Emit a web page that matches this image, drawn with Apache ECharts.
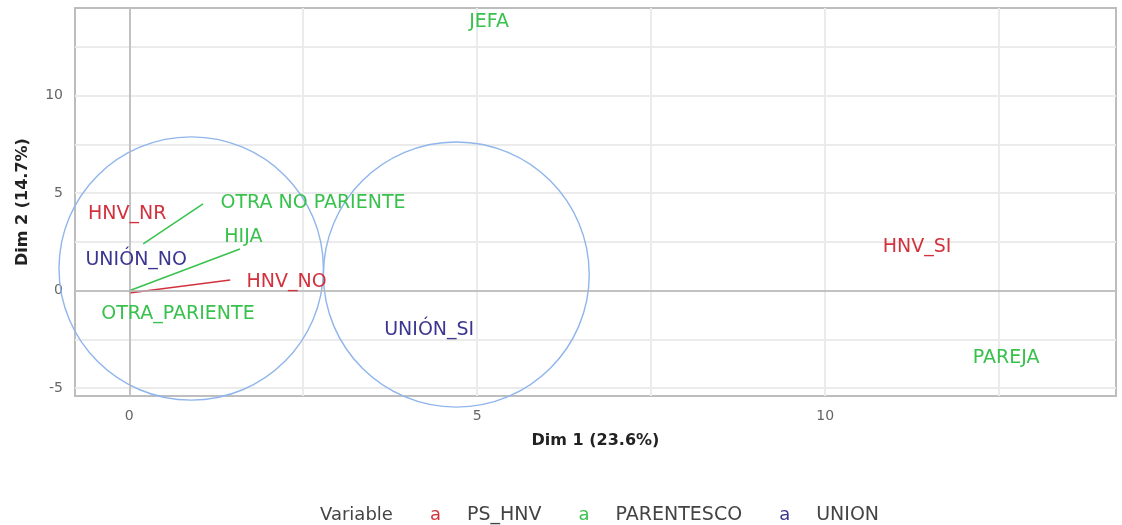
<!DOCTYPE html>
<html>
<head>
<meta charset="utf-8">
<script src="https://cdn.jsdelivr.net/npm/echarts@6/dist/echarts.min.js"></script>
<style>
  html, body { margin: 0; padding: 0; background: #fff; }
  #chart { width: 1122px; height: 525px; }
</style>
</head>
<body>
<div id="chart"></div>
<script>
// etiquetas (posicion del texto en Dim 1 / Dim 2)
var psHnv = [
  { name: "HNV_NR", value: [-0.03, 3.94] },
  { name: "HNV_NO", value: [2.26, 0.45] },
  { name: "HNV_SI", value: [11.32, 2.24] }
];
var parentesco = [
  { name: "JEFA", value: [5.17, 13.8] },
  { name: "OTRA NO PARIENTE", value: [2.64, 4.5] },
  { name: "HIJA", value: [1.64, 2.75] },
  { name: "OTRA_PARIENTE", value: [0.7, -1.2] },
  { name: "PAREJA", value: [12.6, -3.45] }
];
var union = [
  { name: "UNIÓN_NO", value: [0.1, 1.57] },
  { name: "UNIÓN_SI", value: [4.31, -2.0] }
];
// segmentos punto -> etiqueta
var segmentos = [
  { grupo: "PARENTESCO", coords: [[0.2, 2.4], [1.06, 4.45]] },
  { grupo: "PARENTESCO", coords: [[0.0, 0.0], [1.59, 2.14]] },
  { grupo: "PS_HNV", coords: [[0.0, -0.12], [1.45, 0.55]] }
];
// circulos: centro x, centro y, radio x, radio y
var circulos = [
  [0.89, 1.14, 1.9, 6.75],
  [4.70, 0.83, 1.91, 6.8]
];
var ticksX = [0, 2.5, 5, 7.5, 10, 12.5];
var ticksY = [-5, -2.5, 0, 2.5, 5, 7.5, 10, 12.5];
var labelsX = [0, 5, 10];
var labelsY = [-5, 0, 5, 10];

var colores = { PS_HNV: "#d2323e", PARENTESCO: "#38c24d", UNION: "#3b3690" };
var fuente = "'DejaVu Sans', sans-serif";

var eChart = echarts.init(document.getElementById("chart"));

function serieTexto(nombre, data) {
  return {
    name: nombre,
    type: "scatter",
    data: data,
    symbolSize: 0,
    silent: true,
    itemStyle: { color: colores[nombre], opacity: 1 },
    label: {
      show: true,
      position: "inside",
      formatter: "{b}",
      color: colores[nombre],
      opacity: 1,
      fontSize: 19,
      fontFamily: fuente
    },
    z: 5
  };
}

var option = {
  animation: false,
  backgroundColor: "#fff",
  title: {
    text: "Variable",
    left: 315,
    top: 501,
    textStyle: { fontSize: 18, fontWeight: "normal", color: "#444", fontFamily: fuente }
  },
  legend: {
    left: 420,
    top: 501,
    itemWidth: 0,
    itemHeight: 0,
    itemGap: 32,
    icon: "rect",
    data: ["PS_HNV", "PARENTESCO", "UNION"],
    formatter: function (name) {
      var k = { PS_HNV: "r", PARENTESCO: "g", UNION: "u" }[name];
      return "{" + k + "|a}" + name;
    },
    textStyle: {
      fontSize: 19,
      color: "#444",
      fontFamily: fuente,
      rich: {
        r: { color: colores.PS_HNV, fontSize: 18, padding: [0, 26, 0, 0] },
        g: { color: colores.PARENTESCO, fontSize: 18, padding: [0, 26, 0, 0] },
        u: { color: colores.UNION, fontSize: 18, padding: [0, 26, 0, 0] }
      }
    }
  },
  grid: {
    left: 75,
    right: 6,
    top: 8,
    bottom: 129,
    show: true,
    borderColor: "#bdbdbd",
    borderWidth: 2
  },
  xAxis: {
    type: "value",
    min: -0.78,
    max: 14.18,
    name: "Dim 1 (23.6%)",
    nameLocation: "middle",
    nameGap: 37,
    nameTextStyle: { fontSize: 16, fontWeight: "bold", color: "#222", fontFamily: fuente },
    axisLine: { show: false },
    axisTick: { show: false, customValues: ticksX },
    axisLabel: { customValues: labelsX, color: "#666", fontSize: 14, margin: 13, fontFamily: fuente },
    splitLine: { show: true, lineStyle: { color: "#ebebeb", width: 2 } }
  },
  yAxis: {
    type: "value",
    min: -5.4,
    max: 14.5,
    name: "Dim 2 (14.7%)",
    nameLocation: "middle",
    nameGap: 44,
    nameTextStyle: { fontSize: 16, fontWeight: "bold", color: "#222", fontFamily: fuente },
    axisLine: { show: false },
    axisTick: { show: false, customValues: ticksY },
    axisLabel: { customValues: labelsY, color: "#666", fontSize: 14, margin: 12, fontFamily: fuente },
    splitLine: { show: true, lineStyle: { color: "#ebebeb", width: 2 } }
  },
  series: [
    {
      type: "scatter",
      data: [],
      silent: true,
      markLine: {
        silent: true,
        symbol: "none",
        label: { show: false },
        lineStyle: { color: "#b5b5b5", width: 1.5, type: "solid" },
        data: [{ xAxis: 0 }, { yAxis: 0 }]
      }
    },
    {
      type: "custom",
      silent: true,
      data: circulos,
      renderItem: function (params, api) {
        var c = api.coord([api.value(0), api.value(1)]);
        var e = api.coord([api.value(0) + api.value(2), api.value(1) + api.value(3)]);
        return {
          type: "ellipse",
          shape: { cx: c[0], cy: c[1], rx: e[0] - c[0], ry: c[1] - e[1] },
          style: { fill: "none", stroke: "#8fb5ec", lineWidth: 1.4 }
        };
      },
      z: 3
    },
    {
      type: "lines",
      coordinateSystem: "cartesian2d",
      silent: true,
      data: segmentos.map(function (s) {
        return { coords: s.coords, lineStyle: { color: colores[s.grupo] } };
      }),
      lineStyle: { width: 1.5, opacity: 1 },
      z: 4
    },
    serieTexto("PS_HNV", psHnv),
    serieTexto("PARENTESCO", parentesco),
    serieTexto("UNION", union)
  ]
};
eChart.setOption(option, true);
</script>
</body>
</html>
